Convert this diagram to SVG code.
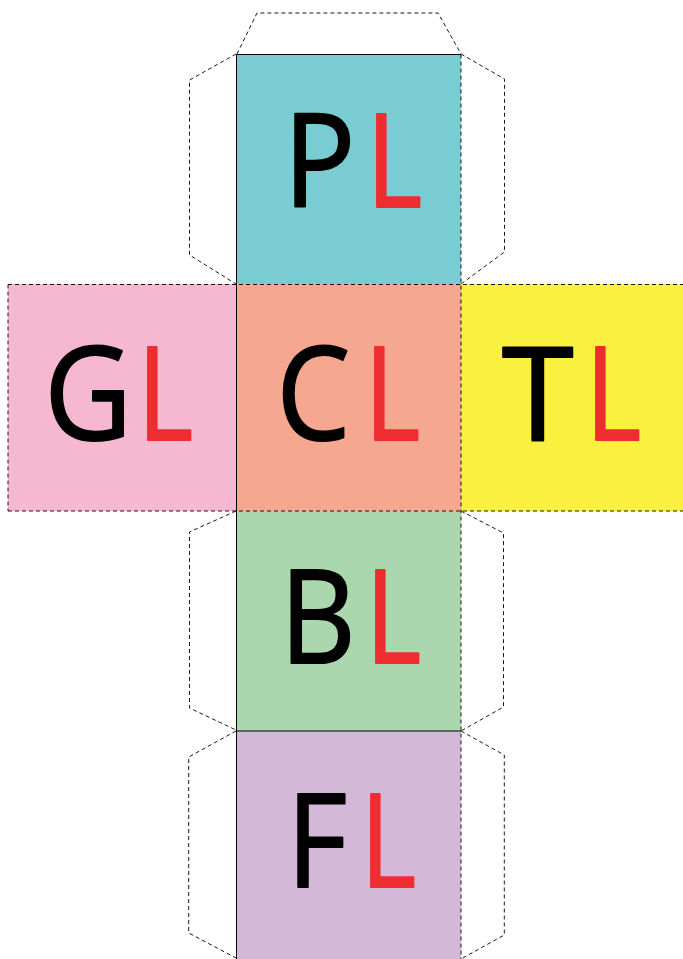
<svg xmlns="http://www.w3.org/2000/svg" width="683" height="959" viewBox="0 0 683 959">
<style>
.tab{fill:none;stroke:#000;stroke-width:0.9;stroke-dasharray:4 3}
.fold{stroke:#000;stroke-width:1}
.dash{fill:none;stroke:#000;stroke-width:0.9;stroke-dasharray:4 3}
.lbl{font-family:"Open Sans","Liberation Sans",sans-serif;font-size:130px;fill:#000;stroke:#000;stroke-width:2;stroke-linejoin:round}
.r{fill:#EE2D30;stroke:#EE2D30}
</style>
<rect width="683" height="959" fill="#fff"/>
<g id="tabs">
<polyline class="tab" points="237,54 257,13 438,13 461,54"/>
<polyline class="tab" points="236,54 189.5,80 189.5,255 236,284"/>
<polyline class="tab" points="461,54 504.5,79 504.5,252 461,284"/>
<polyline class="tab" points="236,511 189.5,532 189.5,708 236,730"/>
<polyline class="tab" points="461,511 503.5,533 503.5,707 461,731"/>
<polyline class="tab" points="236,731 188.7,757 188.7,933 236,958"/>
<polyline class="tab" points="461,731 504.3,755 504.3,935 461,959"/>
</g>
<g id="face-P">
<rect x="236.5" y="54.5" width="224.5" height="229.5" fill="#79CDD2"/>
<text class="lbl" transform="translate(283.6,207) scale(0.92,1)">P</text>
<text class="lbl r" transform="translate(366.4,207) scale(0.82,1)">L</text>
</g>
<g id="face-G">
<rect x="8" y="284" width="228.5" height="227" fill="#F6B8D1"/>
<text class="lbl" transform="translate(44.3,440) scale(0.93,1)">G</text>
<text class="lbl r" transform="translate(137.4,440) scale(0.82,1)">L</text>
</g>
<g id="face-C">
<rect x="236.5" y="284" width="224.5" height="227" fill="#F6A78F"/>
<text class="lbl" transform="translate(276.6,440) scale(0.9,1)">C</text>
<text class="lbl r" transform="translate(364.4,440) scale(0.82,1)">L</text>
</g>
<g id="face-T">
<rect x="461" y="284" width="222" height="227" fill="#FAF03F"/>
<text class="lbl" transform="translate(502,440)">T</text>
<text class="lbl r" transform="translate(585.4,440) scale(0.82,1)">L</text>
</g>
<g id="face-B">
<rect x="236.5" y="511" width="224.5" height="220" fill="#ABD7AE"/>
<text class="lbl" transform="translate(280,663) scale(0.9,1)">B</text>
<text class="lbl r" transform="translate(365.4,663) scale(0.82,1)">L</text>
</g>
<g id="face-F">
<rect x="236.5" y="731" width="224.5" height="228" fill="#D3B8D7"/>
<text class="lbl" transform="translate(286.8,887) scale(0.9,1)">F</text>
<text class="lbl r" transform="translate(360.4,887) scale(0.82,1)">L</text>
</g>
<g id="edges">
<line class="fold" x1="236.5" y1="54.5" x2="236.5" y2="959"/>
<line class="fold" x1="236.5" y1="54.5" x2="461" y2="54.5"/>
<line class="fold" x1="236.5" y1="731" x2="461" y2="731"/>
<line class="dash" x1="461" y1="54.5" x2="461" y2="959"/>
<line class="dash" x1="8" y1="284.5" x2="683" y2="284.5"/>
<line class="dash" x1="8" y1="511" x2="683" y2="511"/>
<line class="dash" x1="8" y1="284.5" x2="8" y2="511"/>
</g>
</svg>
